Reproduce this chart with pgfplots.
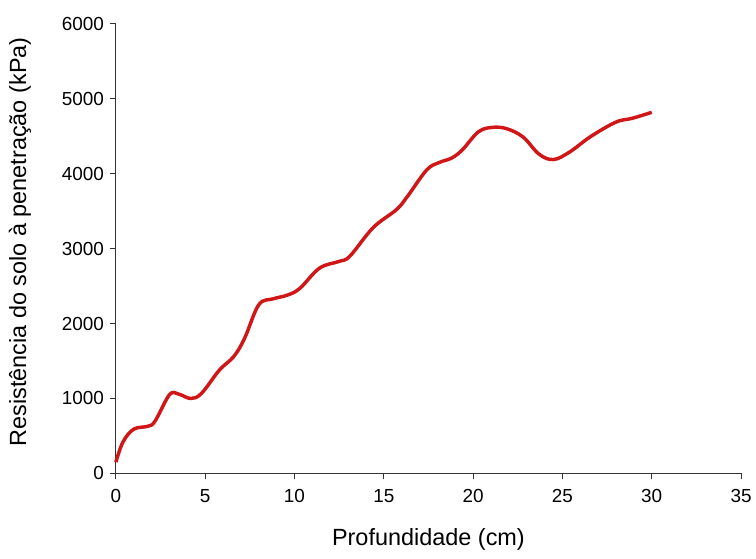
\documentclass[border=0pt]{standalone}
\usepackage{pgfplots}
\pgfplotsset{compat=1.18}
\usepackage{fontspec}
\setmainfont{Liberation Sans}
\definecolor{curve}{RGB}{208,22,22}
\begin{document}
\begin{tikzpicture}[x=1pt,y=1pt]
\begin{axis}[
  scale only axis,
  width=469.5pt, height=337.5pt,
  xmin=0, xmax=35, ymin=0, ymax=6000,
  axis x line*=bottom, axis y line*=left,
  axis line style={-, black!80, line width=0.8pt},
  xtick={0,5,...,35}, ytick={0,1000,...,6000},
  tick align=outside, major tick length=4.5pt,
  tick style={black!80, line width=0.8pt},
  ticklabel style={font=\fontsize{14.2}{16}\selectfont},
  xticklabel style={yshift=-4pt},
  yticklabel style={xshift=-1pt},
  /pgf/number format/assume math mode=true,
  scaled y ticks=false,
  yticklabel style={/pgf/number format/1000 sep={}},
  xlabel={Profundidade (cm)},
  ylabel={Resistência do solo à penetração (kPa)},
  label style={font=\fontsize{17.6}{20}\selectfont},
  xlabel style={at={(axis description cs:0.5,-0.148)}, anchor=center},
  ylabel style={at={(axis description cs:-0.1534,0.515)}, anchor=center},
  clip=false,
]
\addplot[curve, line width=2.6pt, smooth, tension=0.6] coordinates {
(0,150) (0.4,420) (1,590) (1.8,630) (2.2,700) (3,1050) (3.5,1060) (4.2,1000)
(4.8,1070) (5.8,1380) (6.6,1560) (7.2,1800) (8,2250) (8.8,2330) (9.6,2380)
(10.3,2470) (11.4,2740) (12.5,2830) (13.1,2900) (14.4,3280) (15.7,3520)
(16.3,3690) (17.4,4050) (18.1,4150) (18.8,4210) (19.4,4320) (20.3,4560)
(21.1,4620) (21.9,4600) (22.8,4490) (23.7,4260) (24.5,4190) (25.4,4290)
(26.6,4500) (28,4690) (28.9,4740) (30,4820)
};
\coordinate (SW) at (rel axis cs:0,0);
\coordinate (NE) at (rel axis cs:1,1);
\end{axis}
\path ([xshift=-87pt,yshift=-63.75pt]SW) rectangle ([xshift=10.5pt,yshift=18pt]NE);
\end{tikzpicture}
\end{document}
